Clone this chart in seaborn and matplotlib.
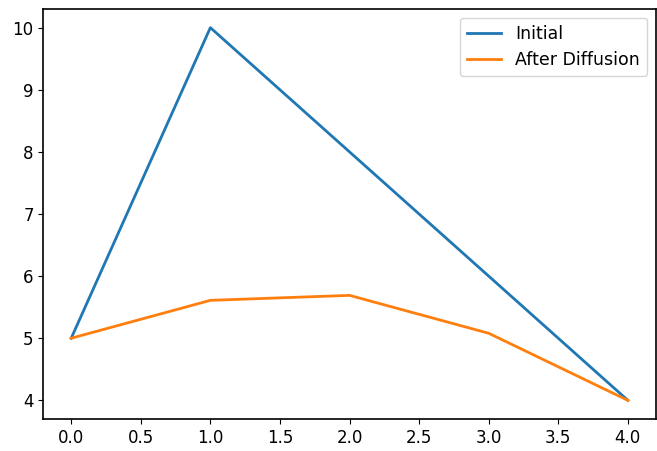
import matplotlib
matplotlib.use("Agg")
import matplotlib.pyplot as plt
import seaborn as sns
import numpy as np

x = [0, 1, 2, 3, 4]
initial = [5, 10, 8, 6, 4]
after = [5, 5.61, 5.69, 5.08, 4]

plt.rcParams["font.size"] = 12
fig, ax = plt.subplots(figsize=(6.57, 4.51), dpi=100)
sns.lineplot(x=x, y=initial, ax=ax, label="Initial", color="#1f77b4", linewidth=2)
sns.lineplot(x=x, y=after, ax=ax, label="After Diffusion", color="#ff7f0e", linewidth=2)
ax.legend(loc="upper right", fontsize=12.5)
ax.tick_params(labelsize=12)
for s in ax.spines.values():
    s.set_linewidth(1.2)
fig.subplots_adjust(left=0.066, right=0.998, top=0.980, bottom=0.071)
fig.savefig("out.png", dpi=100)
